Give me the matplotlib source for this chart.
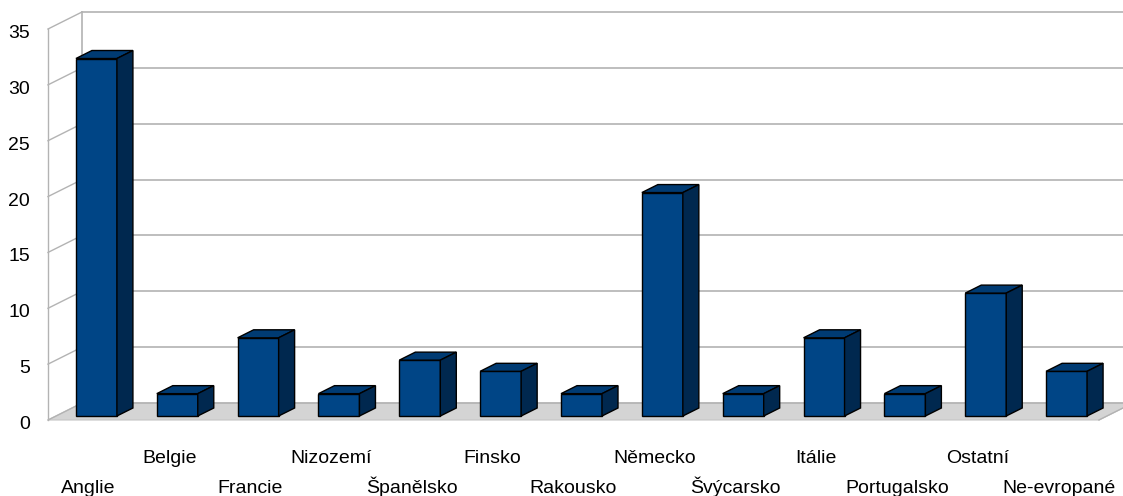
import matplotlib
matplotlib.use("Agg")
import matplotlib.pyplot as plt
from matplotlib.patches import Polygon, Rectangle

plt.rcParams['font.family'] = ['Liberation Sans', 'DejaVu Sans']

# data
countries = ["Anglie", "Belgie", "Francie", "Nizozemí", "Španělsko", "Finsko",
             "Rakousko", "Německo", "Švýcarsko", "Itálie", "Portugalsko",
             "Ostatní", "Ne-evropané"]
counts = [32, 2, 7, 2, 5, 4, 2, 20, 2, 7, 2, 11, 4]
yticks = [0, 5, 10, 15, 20, 25, 30, 35]

front_c = '#004586'
top_c = '#003b73'
side_c = '#00284f'
grid_c = '#b3b3b3'
floor_c = '#d4d4d4'

W, H = 1123, 496
fig = plt.figure(figsize=(W / 100, H / 100), dpi=100)
# front plane of the 3d box
ax = fig.add_axes([48 / W, (H - 420) / H, 1051 / W, 391 / H])
n = len(countries)
ax.set_xlim(-0.5, n - 0.5)
ax.set_ylim(0, 35)
ax.axis('off')

# depth of the box in pixels -> data units
px_x = 1051 / n
px_y = 391 / 35
Dx = 34 / px_x
Dy = 17 / px_y
f1, f2 = 8 / 34, 24 / 34   # bar front / back depth
bw = 41 / px_x

x0, x1 = -0.5, n - 0.5
# floor
ax.add_patch(Polygon([(x0, 0), (x1, 0), (x1 + Dx, Dy), (x0 + Dx, Dy)],
                     closed=True, fc=floor_c, ec='#c4c4c4', lw=0.8, clip_on=False, zorder=1))
# back wall grid + left wall
for v in yticks:
    ax.plot([x0 + Dx, x1 + Dx + 1], [v + Dy, v + Dy], color=grid_c, lw=1.2,
            clip_on=False, zorder=2)
    ax.plot([x0, x0 + Dx], [v, v + Dy], color=grid_c, lw=1.0, clip_on=False, zorder=2)
ax.plot([x0 + Dx, x0 + Dx], [Dy, 35 + Dy], color=grid_c, lw=1.2, clip_on=False, zorder=2)
ax.plot([x0, x0], [0, 35], color=grid_c, lw=1.0, clip_on=False, zorder=2)
ax.plot([x1, x1 + Dx], [0, Dy], color=grid_c, lw=1.0, clip_on=False, zorder=2)

# bars
for i, v in enumerate(counts):
    l = i - bw / 2
    r = i + bw / 2
    ax.add_patch(Rectangle((l + f1 * Dx, f1 * Dy), bw, v, fc=front_c, ec='black',
                           lw=1.0, clip_on=False, zorder=3))
    ax.add_patch(Polygon([(l + f1 * Dx, v + f1 * Dy), (r + f1 * Dx, v + f1 * Dy),
                          (r + f2 * Dx, v + f2 * Dy), (l + f2 * Dx, v + f2 * Dy)],
                         closed=True, fc=top_c, ec='black', lw=1.0, clip_on=False, zorder=3))
    ax.add_patch(Polygon([(r + f1 * Dx, f1 * Dy), (r + f2 * Dx, f2 * Dy),
                          (r + f2 * Dx, v + f2 * Dy), (r + f1 * Dx, v + f1 * Dy)],
                         closed=True, fc=side_c, ec='black', lw=1.0, clip_on=False, zorder=3))

# value labels
for v in yticks:
    ax.annotate(str(v), xy=(x0, v), xytext=(-18, -9), textcoords='offset pixels',
                ha='right', va='baseline', fontsize=14, color='black', annotation_clip=False)

# category labels, staggered
for i, name in enumerate(countries):
    off = -73 if i % 2 == 0 else -43
    ax.annotate(name, xy=(i, 0), xytext=(0, off), textcoords='offset pixels',
                ha='center', va='baseline', fontsize=14, color='black', annotation_clip=False)

fig.savefig("out.png", dpi=100, facecolor='white')
